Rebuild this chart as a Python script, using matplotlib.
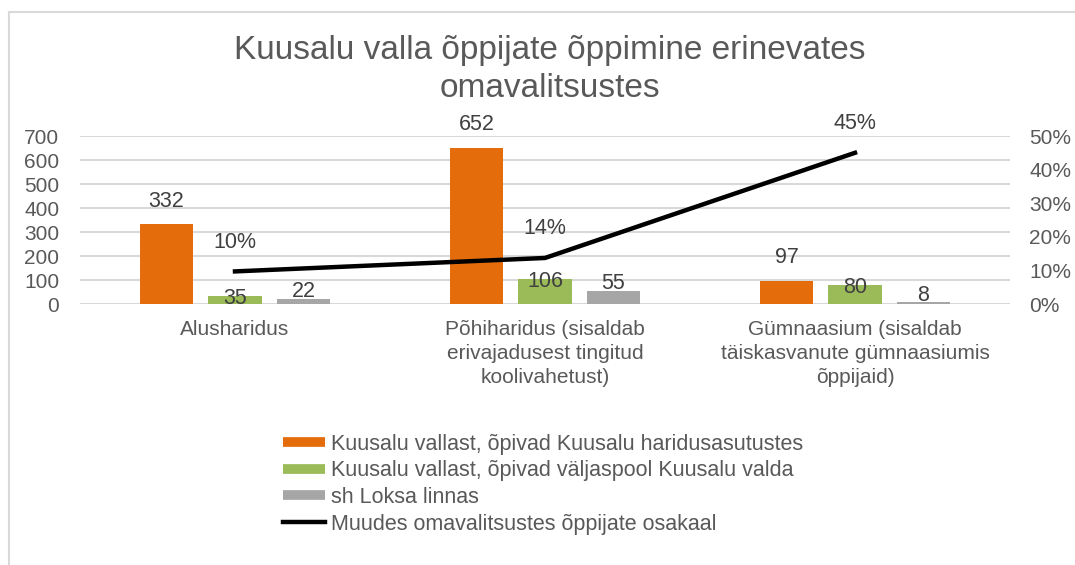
#! /usr/bin/env python3
import numpy as np
import matplotlib.pyplot as plt
from matplotlib.lines import Line2D

# data
categories = ["Alusharidus",
              "Põhiharidus (sisaldab\nerivajadusest tingitud\nkoolivahetust)",
              "Gümnaasium (sisaldab\ntäiskasvanute gümnaasiumis\nõppijaid)"]
kuusalu_sees = [332, 652, 97]
kuusalu_valjas = [35, 106, 80]
loksa = [22, 55, 8]
osakaal = [0.097, 0.137, 0.45]
osakaal_labels = ["10%", "14%", "45%"]

series_names = ["Kuusalu vallast, õpivad Kuusalu haridusasutustes",
                "Kuusalu vallast, õpivad väljaspool Kuusalu valda",
                "sh Loksa linnas",
                "Muudes omavalitsustes õppijate osakaal"]

ORANGE = "#E46C0A"
GREEN = "#9BBB59"
GRAY = "#A6A6A6"
TXT = "#595959"
GRID = "#D9D9D9"

plt.rcParams['font.family'] = ['Liberation Sans', 'DejaVu Sans']

fig = plt.figure(figsize=(10.75, 5.65), dpi=100)
W, H = 1075, 565
ax = fig.add_axes([80 / W, 1 - 304 / H, 930 / W, 168 / H])
ax2 = ax.twinx()

x = np.arange(len(categories))
step = 0.221
width = 0.174
bars = [(kuusalu_sees, ORANGE, 9), (kuusalu_valjas, GREEN, -2), (loksa, GRAY, 5)]
for i, (vals, col, off) in enumerate(bars):
    xs = x + (i - 1) * step
    ax.bar(xs, vals, width=width, color=col, zorder=3)
    for xi, v in zip(xs, vals):
        ax.annotate(str(v), (xi, v), xytext=(0, off), textcoords="offset points",
                    ha="center", va="bottom" if off > 6 else "center",
                    fontsize=15.5, color="#404040", zorder=5)

ax.set_xlim(-0.5, 2.5)
ax.set_ylim(0, 700)
ax.set_yticks(range(0, 701, 100))
ax.grid(axis="y", color=GRID, linewidth=1.5, zorder=0)
ax.set_axisbelow(True)
ax.set_xticks(x)
ax.set_xticklabels(categories, fontsize=15, color=TXT, linespacing=1.35)
ax.tick_params(axis="x", length=0, pad=11.5)
ax.tick_params(axis="y", length=0, pad=15, labelsize=15, labelcolor=TXT)
for s in ax.spines.values():
    s.set_visible(False)

ax2.plot(x, osakaal, color="black", linewidth=3.2, zorder=4)
for xi, v, lab in zip(x, osakaal, osakaal_labels):
    ax2.annotate(lab, (xi, v), xytext=(0, 21), textcoords="offset points",
                 ha="center", va="center", fontsize=15.5, color="#404040")
ax2.set_ylim(0, 0.5)
ax2.set_yticks(np.arange(0, 0.51, 0.1))
ax2.set_yticklabels(["{:.0f}%".format(t * 100) for t in np.arange(0, 0.51, 0.1)])
ax2.tick_params(axis="y", length=0, pad=14, labelsize=15, labelcolor=TXT)
for s in ax2.spines.values():
    s.set_visible(False)

fig.suptitle("Kuusalu valla õppijate õppimine erinevates\nomavalitsustes",
             x=550 / W, y=1 - 35 / H, va="top", fontsize=24, color=TXT,
             linespacing=1.3)

handles = [Line2D([], [], color=ORANGE, lw=7, solid_capstyle="butt"),
           Line2D([], [], color=GREEN, lw=7, solid_capstyle="butt"),
           Line2D([], [], color=GRAY, lw=7, solid_capstyle="butt"),
           Line2D([], [], color="black", lw=3.2)]
fig.legend(handles, series_names, loc="upper left",
           bbox_to_anchor=(272 / W, 1 - 423 / H), frameon=False,
           fontsize=15.5, labelcolor=TXT, handlelength=1.95,
           handletextpad=0.3, labelspacing=0.26, borderpad=0)

# chart area border (only top and left visible in reference)
fig.add_artist(Line2D([9 / W, 9 / W], [0, 1 - 12 / H], color=GRID, lw=1.5,
                      transform=fig.transFigure))
fig.add_artist(Line2D([9 / W, 1], [1 - 12 / H, 1 - 12 / H], color=GRID, lw=1.5,
                      transform=fig.transFigure))

fig.savefig("out.png", dpi=100, facecolor="white")
